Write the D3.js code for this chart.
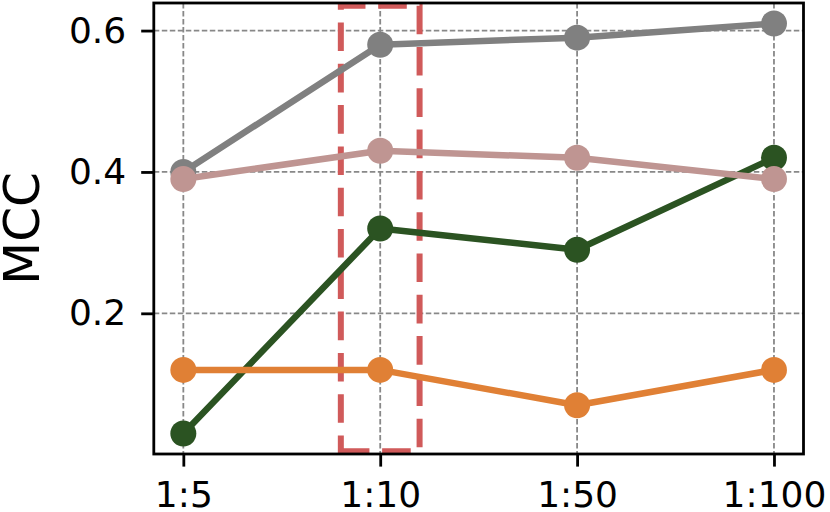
<!DOCTYPE html>
<html>
<head>
<meta charset="utf-8">
<script src="https://cdn.jsdelivr.net/npm/d3@7"></script>
<style>
  html, body { margin: 0; padding: 0; background: #fff; }
  svg { display: block; font-family: "DejaVu Sans", sans-serif; }
</style>
</head>
<body>
<svg id="chart" width="830" height="512"></svg>
<script>
const categories = ["1:5", "1:10", "1:50", "1:100"];
const yTicks = [0.2, 0.4, 0.6];
const grayValues   = [0.40, 0.58, 0.59, 0.61];
const greenValues  = [0.03, 0.32, 0.29, 0.42];
const orangeValues = [0.12, 0.12, 0.07, 0.12];
const pinkValues   = [0.39, 0.43, 0.42, 0.39];
const seriesOrder = [
  { name: "gray",   values: grayValues,   color: "#808080" },
  { name: "green",  values: greenValues,  color: "#2b5322" },
  { name: "orange", values: orangeValues, color: "#e08035" },
  { name: "pink",   values: pinkValues,   color: "#bf9592" }
];
const highlightCategory = "1:10";
const highlightHalfWidth = 0.2;
const highlightY = [0.005, 0.635];
const yLabel = "MCC";

(function () {
const svg = d3.select("#chart");
const pL = 153.8, pR = 803.5, pT = 3, pB = 454;

const x = d3.scaleLinear().domain([-0.15, categories.length - 1 + 0.15]).range([pL, pR]);
const y = d3.scaleLinear().domain([0.001, 0.639]).range([pB, pT]);

// grid
const grid = svg.append("g");
grid.selectAll("line.h").data(yTicks).enter().append("line")
  .attr("x1", pL).attr("x2", pR)
  .attr("y1", d => y(d)).attr("y2", d => y(d))
  .attr("stroke", "#888").attr("stroke-width", 1.8).attr("stroke-dasharray", "5.5,2.5");
grid.selectAll("line.v").data(categories.map((c, i) => i)).enter().append("line")
  .attr("y1", pT).attr("y2", pB)
  .attr("x1", d => x(d)).attr("x2", d => x(d))
  .attr("stroke", "#888").attr("stroke-width", 1.8).attr("stroke-dasharray", "5.5,2.5");

// highlight rectangle (path starting bottom-left, like matplotlib)
const hi = categories.indexOf(highlightCategory);
const hx0 = x(hi - highlightHalfWidth), hx1 = x(hi + highlightHalfWidth);
const hy0 = y(highlightY[0]), hy1 = y(highlightY[1]);
svg.append("path")
  .attr("d", `M${hx0},${hy0}L${hx1},${hy0}L${hx1},${hy1}L${hx0},${hy1}Z`)
  .attr("fill", "none").attr("stroke", "#d05a5a").attr("stroke-width", 6)
  .attr("stroke-dasharray", "28.6,12.7");

// series
const line = d3.line().x((d, i) => x(i)).y(d => y(d));
seriesOrder.forEach(s => {
  const g = svg.append("g");
  g.append("path").datum(s.values).attr("d", line)
    .attr("fill", "none").attr("stroke", s.color).attr("stroke-width", 6.5)
    .attr("stroke-linejoin", "round");
  g.selectAll("circle").data(s.values).enter().append("circle")
    .attr("cx", (d, i) => x(i)).attr("cy", d => y(d)).attr("r", 13)
    .attr("fill", s.color);
});

// axes
const xAxis = d3.axisBottom(x).tickValues(categories.map((c, i) => i))
  .tickFormat(i => categories[i]).tickSize(12.6).tickPadding(15);
const yAxis = d3.axisLeft(y).tickValues(yTicks).tickFormat(d3.format(".1f"))
  .tickSize(12.6).tickPadding(15);

const gx = svg.append("g").attr("transform", `translate(0,${pB})`).call(xAxis);
const gy = svg.append("g").attr("transform", `translate(${pL},0)`).call(yAxis);
[gx, gy].forEach(g => {
  g.select(".domain").remove();
  g.selectAll(".tick line").attr("stroke", "#000").attr("stroke-width", 2.8);
  g.selectAll(".tick text").attr("fill", "#000").attr("font-size", 36)
    .attr("font-family", "DejaVu Sans");
});

// frame (spines)
svg.append("rect").attr("x", pL).attr("y", pT)
  .attr("width", pR - pL).attr("height", pB - pT)
  .attr("fill", "none").attr("stroke", "#000").attr("stroke-width", 2.8);

// y label
svg.append("text")
  .attr("transform", `translate(38.5,${(pT + pB) / 2}) rotate(-90)`)
  .attr("text-anchor", "middle").attr("font-size", 50).attr("fill", "#000")
  .text(yLabel);
})();
</script>
</body>
</html>
